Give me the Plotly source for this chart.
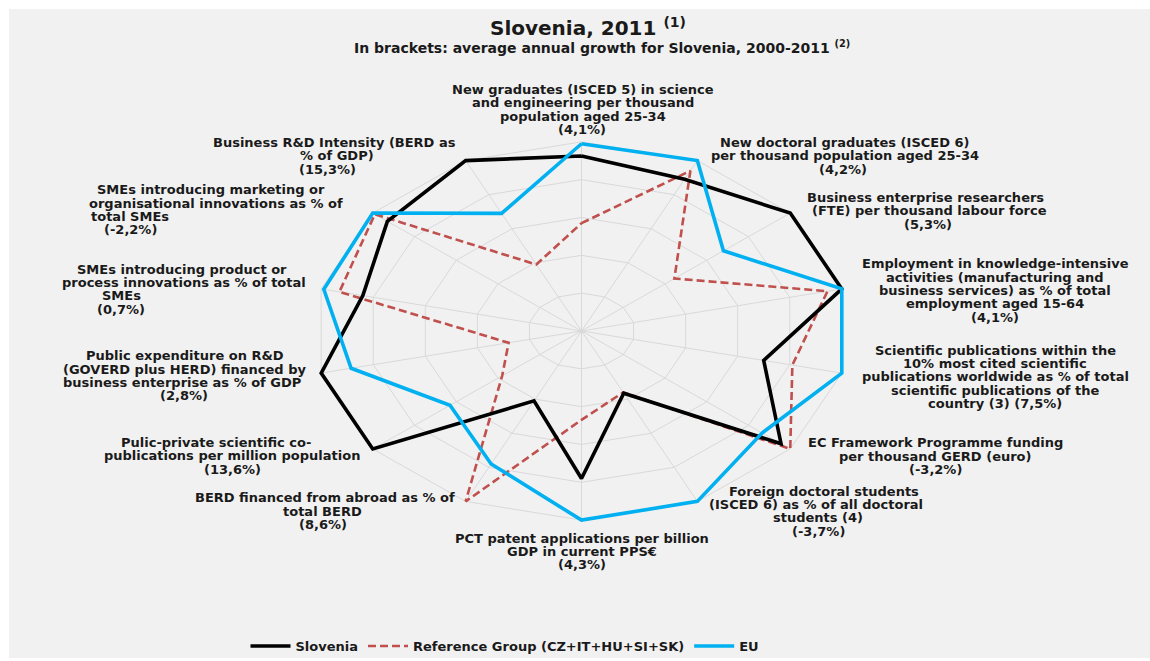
import numpy as np
import plotly.graph_objects as go

# ---------------------------------------------------------------------------
# Data: indicator labels (with average annual growth 2000-2011) and the
# normalised scores of the three series, listed clockwise from the top.
# ---------------------------------------------------------------------------
indicators = [
    "New graduates (ISCED 5) in science<br>and engineering per thousand<br>population aged 25-34<br>(4,1%)",
    "New doctoral graduates (ISCED 6)<br>per thousand population aged 25-34<br>(4,2%)",
    "Business enterprise researchers<br>(FTE) per thousand labour force<br>(5,3%)",
    "Employment in knowledge-intensive<br>activities (manufacturing and<br>business services) as % of total<br>employment aged 15-64<br>(4,1%)",
    "Scientific publications within the<br>10% most cited scientific<br>publications worldwide as % of total<br>scientific publications of the<br>country (3) (7,5%)",
    "EC Framework Programme funding<br>per thousand GERD (euro)<br>(-3,2%)",
    "Foreign doctoral students<br>(ISCED 6) as % of all doctoral<br>students (4)<br>(-3,7%)",
    "PCT patent applications per billion<br>GDP in current PPS€<br>(4,3%)",
    "BERD financed from abroad as % of<br>total BERD<br>(8,6%)",
    "Pulic-private scientific co-<br>publications per million population<br>(13,6%)",
    "Public expenditure on R&D<br>(GOVERD plus HERD) financed by<br>business enterprise as % of GDP<br>(2,8%)",
    "SMEs introducing product or<br>process innovations as % of total<br>SMEs<br>(0,7%)",
    "SMEs introducing marketing or<br>organisational innovations as % of<br>total SMEs<br>(-2,2%)",
    "Business R&D Intensity (BERD as<br>% of GDP)<br>(15,3%)",
]

slovenia = [0.925, 0.89, 1.00, 1.00, 0.70, 0.956, 0.365, 0.78, 0.41, 1.00, 1.00, 0.84, 0.93, 1.00]
reference_group = [0.57, 0.94, 0.445, 0.945, 0.81, 1.00, 0.36, 0.47, 1.00, 0.38, 0.28, 0.93, 0.99, 0.39]
eu = [0.99, 1.00, 0.68, 1.00, 1.00, 0.865, 1.00, 1.00, 0.78, 0.63, 0.885, 0.99, 1.00, 0.69]

ring_levels = [0.2, 0.4, 0.6, 0.8, 1.0]

title_text = "Slovenia, 2011 <sup>(1)</sup>"
subtitle_text = "In brackets: average annual growth for Slovenia, 2000-2011 <sup>(2)</sup>"

# ---------------------------------------------------------------------------
# Layout constants (pixels)
# ---------------------------------------------------------------------------
W, H = 1150, 661
CX, CY = 581.5, 332.5      # centre of the web
RX, RY = 267.0, 190.0      # outer ring half-width / half-height
FONT = "DejaVu Sans"
TEXT_COL = "#1a1a1a"
GRID_COL = "#d9d9d9"
LABEL_SIZE = 13

# per-line horizontal centres and first-line vertical centre of each label
label_line_x = [
    [583, 583, 583, 582],
    [844, 845, 843],
    [926, 929, 928],
    [995, 995, 995, 995, 995],
    [995, 995, 995, 995, 995],
    [935, 935, 935],
    [824, 816, 818, 818],
    [582, 582, 582],
    [325, 322, 323],
    [216, 232, 232],
    [185, 184, 182, 184],
    [182, 184, 121, 121],
    [211, 216, 130, 130],
    [334, 337, 327],
]
label_first_y = [90, 143.3, 198.3, 265, 351.7, 445, 493.3, 540.5, 500, 444.5, 357.4, 270.5, 190.8, 143.3]
LINE_STEP = 13.4

n = len(indicators)
angles = np.arange(n) * 2 * np.pi / n   # clockwise from 12 o'clock


def to_xy(values):
    """Radar values -> web coordinates, closing the polygon."""
    v = np.asarray(values, dtype=float)
    x = v * np.sin(angles)
    y = v * np.cos(angles)
    return np.append(x, x[0]), np.append(y, y[0])


fig = go.Figure()

# web: concentric rings and spokes
for lvl in ring_levels:
    gx, gy = to_xy([lvl] * n)
    fig.add_trace(go.Scatter(x=gx, y=gy, mode="lines", line=dict(color=GRID_COL, width=1),
                             hoverinfo="skip", showlegend=False))
for a in angles:
    fig.add_trace(go.Scatter(x=[0, np.sin(a)], y=[0, np.cos(a)], mode="lines",
                             line=dict(color=GRID_COL, width=1), hoverinfo="skip", showlegend=False))

hover_names = [s.replace("<br>", " ") for s in indicators]

series = [
    ("Reference Group (CZ+IT+HU+SI+SK)", reference_group, dict(color="#C0504D", width=2.6, dash="8px,4px"), 2),
    ("Slovenia", slovenia, dict(color="#000000", width=3.6), 1),
    ("EU", eu, dict(color="#00B0F0", width=3.6), 3),
]
for name, vals, line, rank in series:
    sx, sy = to_xy(vals)
    fig.add_trace(go.Scatter(
        x=sx, y=sy, mode="lines", name=name, line=line, legendrank=rank,
        text=hover_names + [hover_names[0]],
        customdata=list(vals) + [vals[0]],
        hovertemplate="%{text}<br>%{customdata:.2f}<extra>" + name + "</extra>",
    ))


def px(x):
    return x / W


def py(y):
    return 1 - y / H


annotations = []
for label, xs, y0 in zip(indicators, label_line_x, label_first_y):
    for i, (line_text, lx) in enumerate(zip(label.split("<br>"), xs)):
        annotations.append(dict(
            text=line_text, x=px(lx), y=py(y0 + i * LINE_STEP), xref="paper", yref="paper",
            xanchor="center", yanchor="middle", showarrow=False,
            font=dict(family=FONT, size=LABEL_SIZE, color=TEXT_COL, weight="bold"),
        ))

annotations.append(dict(text=title_text, x=px(588), y=py(27), xref="paper", yref="paper",
                        xanchor="center", yanchor="middle", showarrow=False,
                        font=dict(family=FONT, size=20, color=TEXT_COL, weight="bold")))
annotations.append(dict(text=subtitle_text, x=px(602), y=py(47), xref="paper", yref="paper",
                        xanchor="center", yanchor="middle", showarrow=False,
                        font=dict(family=FONT, size=14, color=TEXT_COL, weight="bold")))

fig.update_layout(
    width=W, height=H,
    margin=dict(l=0, r=0, t=0, b=0),
    paper_bgcolor="#ffffff",
    plot_bgcolor="rgba(0,0,0,0)",
    xaxis=dict(range=[-CX / RX, (W - CX) / RX], visible=False, fixedrange=True),
    yaxis=dict(range=[-(H - CY) / RY, CY / RY], visible=False, fixedrange=True),
    shapes=[dict(type="rect", xref="paper", yref="paper", x0=px(9), x1=1, y0=0, y1=py(9),
                 fillcolor="#f1f1f1", line=dict(width=0), layer="below")],
    annotations=annotations,
    showlegend=True,
    legend=dict(orientation="h", x=px(505), xanchor="center", y=py(649), yanchor="middle",
                bgcolor="rgba(0,0,0,0)", font=dict(family=FONT, size=13, color=TEXT_COL, weight="bold"),
                itemwidth=40, traceorder="normal"),
    hovermode="closest",
)

fig.write_html("out.html")
